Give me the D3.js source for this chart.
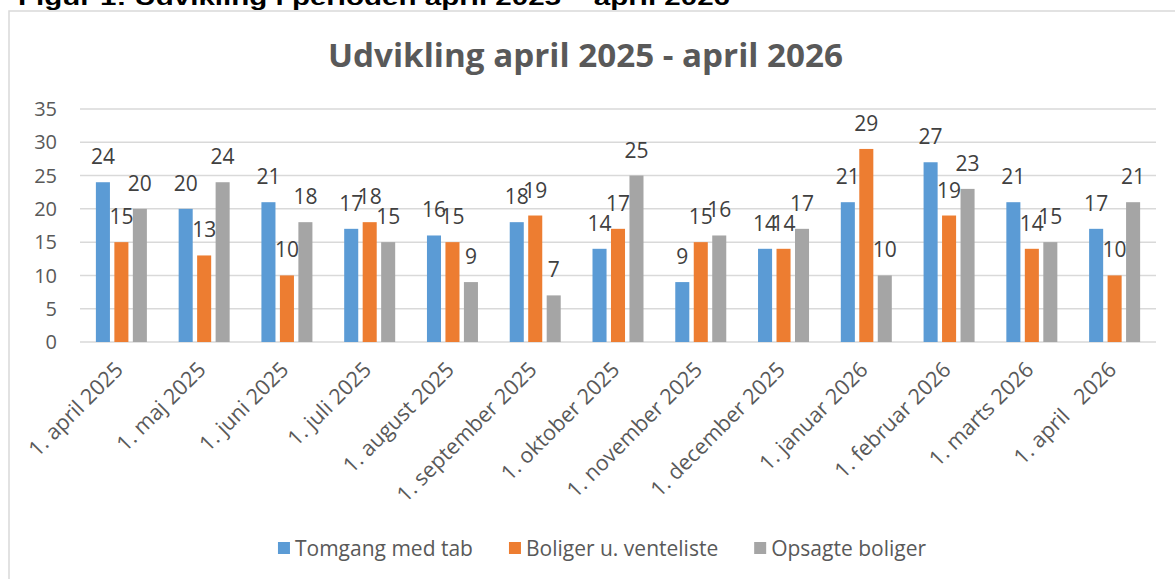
<!DOCTYPE html>
<html>
<head>
<meta charset="utf-8">
<script src="https://cdn.jsdelivr.net/npm/d3@7"></script>
<style>
  body { margin: 0; background: #fff; }
  svg { display: block; font-family: "Open Sans", sans-serif; }
  .tick-label { fill: #595959; font-size: 20px; }
  .data-label { fill: #404040; font-size: 21px; }
  .x-label { fill: #595959; font-size: 21.5px; white-space: pre; }
  .legend-text { fill: #595959; font-size: 21px; }
</style>
</head>
<body>
<div id="chart"></div>
<script>
// data
const months = [
  '1. april 2025', '1. maj 2025', '1. juni 2025', '1. juli 2025', '1. august 2025',
  '1. september 2025', '1. oktober 2025', '1. november 2025', '1. december 2025',
  '1. januar 2026', '1. februar 2026', '1. marts 2026', '1. april   2026'
];
const seriesNames = ['Tomgang med tab', 'Boliger u. venteliste', 'Opsagte boliger'];
const tomgang = [24, 20, 21, 17, 16, 18, 14, 9, 14, 21, 27, 21, 17];
const venteliste = [15, 13, 10, 18, 15, 19, 17, 15, 14, 29, 19, 14, 10];
const opsagte = [20, 24, 18, 15, 9, 7, 25, 16, 17, 10, 23, 15, 21];
const yTicks = [0, 5, 10, 15, 20, 25, 30, 35];
const colors = ['#5B9BD5', '#ED7D31', '#A5A5A5'];

const width = 1175;
const height = 579;
const PLOT_LEFT = 80;
const PLOT_RIGHT = 1156;
const PLOT_TOP = 109;
const PLOT_BOTTOM = 342;

const rows = months.map((m, i) => ({
  month: m,
  values: [tomgang[i], venteliste[i], opsagte[i]]
}));

const svg = d3.select('#chart').append('svg')
  .attr('width', width)
  .attr('height', height);

// outer chart border
svg.append('rect')
  .attr('x', 9).attr('y', 11)
  .attr('width', width + 20).attr('height', height + 20)
  .attr('fill', '#fff')
  .attr('stroke', '#d9d9d9')
  .attr('stroke-width', 1.5);

// figure caption, cut off at the top
svg.append('text')
  .attr('x', 18).attr('y', 5)
  .attr('textLength', 712)
  .attr('lengthAdjust', 'spacingAndGlyphs')
  .style('font-family', '"Liberation Sans", Arial, sans-serif')
  .style('font-weight', 'bold')
  .style('font-size', '22px')
  .attr('fill', '#000')
  .text('Figur 1: Udvikling i perioden april 2025 – april 2026');

// chart title
svg.append('text')
  .attr('x', 585.5).attr('y', 67)
  .attr('text-anchor', 'middle')
  .attr('textLength', 515)
  .attr('lengthAdjust', 'spacingAndGlyphs')
  .style('font-weight', 'bold')
  .style('font-size', '33px')
  .attr('fill', '#595959')
  .text('Udvikling april 2025 - april 2026');

// scales
const x0 = d3.scaleBand().domain(months).range([PLOT_LEFT, PLOT_RIGHT]);
const groupW = 51;
const x1 = d3.scaleBand().domain(d3.range(3))
  .range([(x0.bandwidth() - groupW) / 2, (x0.bandwidth() + groupW) / 2])
  .paddingInner(0.24);
const y = d3.scaleLinear().domain([0, 35]).range([PLOT_BOTTOM, PLOT_TOP]);

// gridlines + y labels
const $grid = svg.append('g').attr('class', 'g-grid');
$grid.selectAll('line').data(yTicks).join('line')
  .attr('x1', PLOT_LEFT).attr('x2', PLOT_RIGHT)
  .attr('y1', d => y(d)).attr('y2', d => y(d))
  .attr('stroke', '#d9d9d9')
  .attr('stroke-width', 1.5);

$grid.selectAll('text').data(yTicks).join('text')
  .attr('class', 'tick-label')
  .attr('x', 57)
  .attr('y', d => y(d))
  .attr('dy', '0.36em')
  .attr('text-anchor', 'end')
  .text(d => d);

// bars
const $groups = svg.append('g').attr('class', 'g-vis')
  .selectAll('g').data(rows).join('g')
  .attr('transform', d => `translate(${x0(d.month)},0)`);

$groups.selectAll('rect')
  .data(d => d.values.map((v, i) => ({ v, i })))
  .join('rect')
  .attr('x', d => x1(d.i))
  .attr('width', x1.bandwidth())
  .attr('y', d => y(d.v))
  .attr('height', d => y(0) - y(d.v))
  .attr('fill', d => colors[d.i]);

$groups.selectAll('text')
  .data(d => d.values.map((v, i) => ({ v, i })))
  .join('text')
  .attr('class', 'data-label')
  .attr('x', d => x1(d.i) + x1.bandwidth() / 2)
  .attr('y', d => y(d.v) - 18)
  .attr('text-anchor', 'middle')
  .text(d => d.v);

// x labels, rotated
svg.append('g').attr('class', 'g-xaxis')
  .selectAll('text').data(months).join('text')
  .attr('class', 'x-label')
  .attr('text-anchor', 'end')
  .attr('transform', d => `translate(${x0(d) + x0.bandwidth() / 2 + 3},371) rotate(-45)`)
  .text(d => d);

// legend
const $legend = svg.append('g').attr('class', 'g-legend');
const items = $legend.selectAll('g').data(seriesNames).join('g');
items.append('rect')
  .attr('width', 12).attr('height', 12)
  .attr('y', -6)
  .attr('fill', (d, i) => colors[i]);
items.append('text')
  .attr('class', 'legend-text')
  .attr('x', 17)
  .attr('dy', '0.36em')
  .text(d => d);

const GAP = 36;
const widths = [];
items.each(function() {
  widths.push(17 + d3.select(this).select('text').node().getComputedTextLength());
});
let offset = 602 - (d3.sum(widths) + GAP * (widths.length - 1)) / 2;
items.attr('transform', (d, i) => {
  const tx = offset;
  offset += widths[i] + GAP;
  return `translate(${tx},548)`;
});
</script>
</body>
</html>
